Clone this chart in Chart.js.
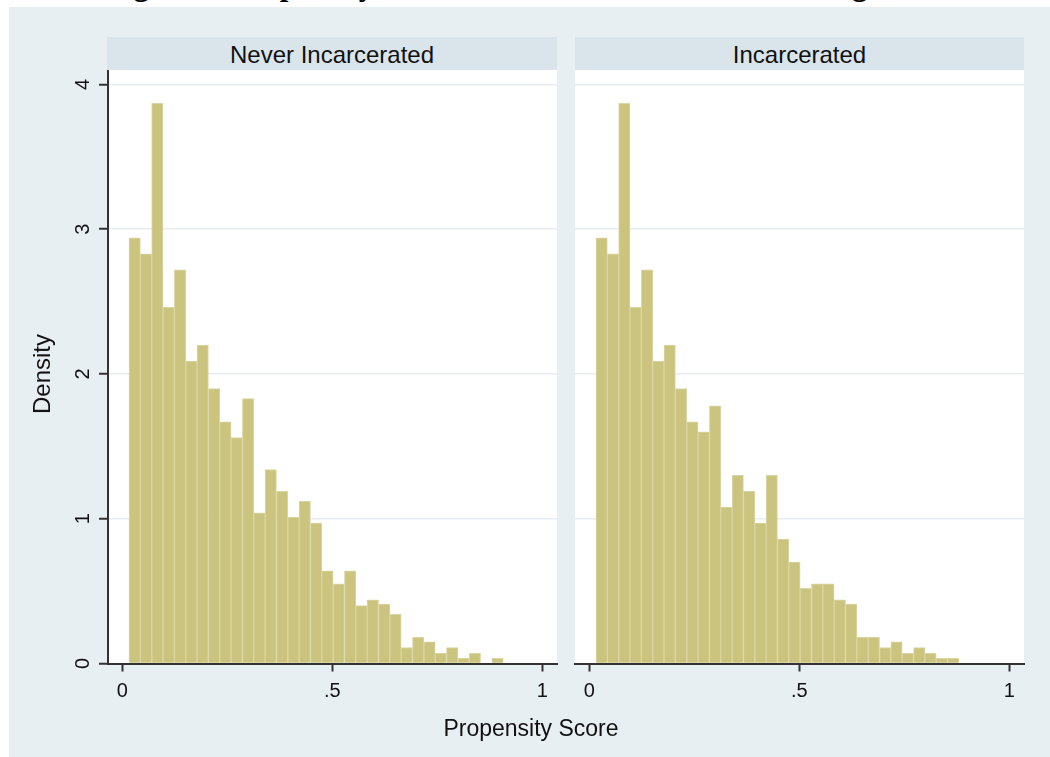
<!DOCTYPE html>
<html><head><meta charset="utf-8">
<script src="https://cdn.jsdelivr.net/npm/chart.js@4.4.0/dist/chart.umd.min.js"></script>
<style>
html,body{margin:0;padding:0;background:#fff;width:1050px;height:757px;overflow:hidden;position:relative;font-family:"Liberation Sans",Arial,sans-serif;}
#bg{position:absolute;left:9px;top:7px;width:1041px;height:750px;background:#e8eff2;}
.hdr{position:absolute;top:37px;height:33px;background:#d9e5eb;color:#111;font-size:24px;line-height:35px;text-align:center;white-space:nowrap;overflow:hidden;}
.wrap{position:absolute;top:70px;height:687px;}
#title{position:absolute;left:106px;top:-31px;font:bold 31px "Liberation Serif","Times New Roman",serif;line-height:31px;white-space:nowrap;color:#000;}
#ytitle{position:absolute;left:42px;top:374px;transform:translate(-50%,-50%) rotate(-90deg);font-size:24px;white-space:nowrap;color:#111;}
#xtitle{position:absolute;left:531px;top:728px;transform:translate(-50%,-50%);font-size:23px;white-space:nowrap;color:#111;}
</style>
</head>
<body>
<div id="title">Figure 1. Propensity Score Distributions Before Matching</div>
<div id="bg"></div>
<div class="hdr" style="left:107px;width:450px;">Never Incarcerated</div>
<div class="hdr" style="left:575px;width:449px;">Incarcerated</div>
<div class="wrap" style="left:0;width:560px;"><canvas id="c1"></canvas></div>
<div class="wrap" style="left:560px;width:490px;"><canvas id="c2"></canvas></div>
<div id="ytitle">Density</div>
<div id="xtitle">Propensity Score</div>
<script>
// Histogram bin centres (propensity score)
const binCenters = [0.0295, 0.0565, 0.0835, 0.1105, 0.1375, 0.1645, 0.1915, 0.2185, 0.2455, 0.2725,
  0.2995, 0.3265, 0.3535, 0.3805, 0.4075, 0.4345, 0.4615, 0.4885, 0.5155, 0.5425,
  0.5695, 0.5965, 0.6235, 0.6505, 0.6775, 0.7045, 0.7315, 0.7585, 0.7855, 0.8125,
  0.8395, 0.8665, 0.8935];
// Density values
const neverIncarcerated = [2.94, 2.83, 3.87, 2.46, 2.72, 2.09, 2.20, 1.90, 1.67, 1.56,
  1.83, 1.04, 1.34, 1.19, 1.01, 1.12, 0.97, 0.64, 0.55, 0.64,
  0.40, 0.44, 0.41, 0.34, 0.11, 0.18, 0.15, 0.07, 0.11, 0.035,
  0.07, 0, 0.035];
const incarcerated = [2.94, 2.83, 3.87, 2.46, 2.72, 2.09, 2.20, 1.90, 1.67, 1.60,
  1.78, 1.08, 1.30, 1.19, 0.97, 1.30, 0.86, 0.70, 0.52, 0.55,
  0.55, 0.44, 0.41, 0.18, 0.18, 0.11, 0.15, 0.07, 0.11, 0.07,
  0.035, 0.035];
const panelTitles = ['Never Incarcerated', 'Incarcerated'];
const xTickValues = [0, 0.5, 1];
const xTickLabels = ['0', '.5', '1'];
const yTickValues = [0, 1, 2, 3, 4];
const yTickLabels = ['0', '1', '2', '3', '4'];

Chart.defaults.font.family = '"Liberation Sans", Arial, sans-serif';

const plotBg = {
  id: 'plotBg',
  beforeDraw(c) {
    const {ctx, chartArea: a} = c;
    ctx.save();
    ctx.fillStyle = '#ffffff';
    ctx.fillRect(a.left, a.top, a.right - a.left, a.bottom - a.top);
    ctx.restore();
  }
};

function makeChart(id, values, showY, padLeft, padRight) {
  return new Chart(document.getElementById(id), {
    type: 'bar',
    data: {
      datasets: [{
        data: values.map((v, i) => ({x: binCenters[i], y: v})),
        backgroundColor: '#cbc47f',
        borderColor: '#dad6a4',
        borderWidth: 1,
        borderSkipped: 'start',
        barPercentage: 1,
        categoryPercentage: 1
      }]
    },
    options: {
      responsive: true,
      maintainAspectRatio: false,
      animation: false,
      layout: {padding: {left: padLeft, right: padRight, top: 0, bottom: 0}},
      plugins: {legend: {display: false}, tooltip: {enabled: false}},
      scales: {
        x: {
          type: 'linear', min: -0.034, max: 1.035, offset: false,
          afterBuildTicks: s => { s.ticks = xTickValues.map(v => ({value: v})); },
          afterFit: s => { s.height = 93.5; s.paddingLeft = 0; s.paddingRight = 0; },
          ticks: {
            callback: v => xTickLabels[xTickValues.indexOf(v)],
            font: {size: 20}, color: '#111', padding: 8,
            minRotation: 0, maxRotation: 0, autoSkip: false
          },
          grid: {drawOnChartArea: false, drawTicks: true, offset: false, tickLength: 8, tickColor: '#333', tickWidth: 2},
          border: {display: true, color: '#333', width: 2}
        },
        y: {
          min: 0, max: 4.1,
          afterBuildTicks: s => { s.ticks = yTickValues.map(v => ({value: v})); },
          afterFit: s => { s.width = showY ? 108 : 0; s.paddingTop = 0; s.paddingBottom = 0; },
          ticks: {
            display: showY,
            callback: v => yTickLabels[yTickValues.indexOf(v)],
            font: {size: 20}, color: '#111', padding: 10,
            minRotation: 90, maxRotation: 90, crossAlign: 'center'
          },
          grid: {color: '#e6eef1', lineWidth: 1.5, drawTicks: showY, tickLength: 9, tickColor: '#333', tickWidth: 2},
          border: {display: showY, color: '#333', width: 2}
        }
      }
    },
    plugins: [plotBg]
  });
}

makeChart('c1', neverIncarcerated, true, 0, 3);
makeChart('c2', incarcerated, false, 15, 26);
</script>
</body></html>
